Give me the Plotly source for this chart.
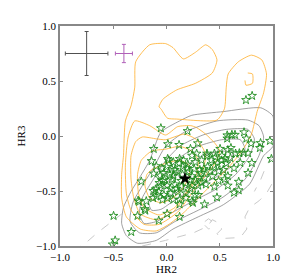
import plotly.graph_objects as go

# ---------------- data ----------------
star_x = [0.746, 0.804, -0.053, 0.197, 0.570, 0.614, 0.643, 0.728, 0.750, 0.794, 0.883, 0.971,
          -0.120, 0.013, 0.118, 0.294, 0.225, 0.283, 0.380, 0.450, 0.503, 0.570, 0.877, 0.605,
          0.576, 0.684, 0.766, 0.649, 0.722, 0.985, 0.239, 0.011, 0.064, 0.380, 0.459, 0.518,
          0.561, 0.693, 0.801, 0.634, 0.766, 0.576, 0.678, 0.547, 0.576, 0.678, 0.634, 0.474,
          0.298, 0.357, 0.239, 0.123, 0.123, 0.006, 0.152, 0.211, 0.327, 0.386, 0.430, 0.327,
          0.239, 0.064, -0.024, 0.006, 0.094, -0.024, 0.182, 0.489, 0.533, -0.140, -0.096, -0.044,
          -0.120, -0.237, -0.038, -0.053, -0.103, -0.125, -0.073, -0.096, -0.038, -0.190, -0.266, -0.204,
          -0.272, -0.073, -0.497, -0.331, -0.482, -0.506, -0.068, -0.125, -0.257, -0.199, 0.248, 0.123,
          0.020, 0.123, 0.269, 0.079, 0.196, 0.313, 0.239, 0.357, 0.050, 0.138, 0.298, 0.035,
          0.108, 0.225, 0.269, 0.006, 0.064, 0.182,
          0.05, 0.10, 0.15, 0.20, 0.26, 0.12, 0.18, 0.08, 0.22, 0.30, 0.35, 0.41, 0.45, 0.42, 0.48,
          0.52, 0.55, 0.60, 0.49, -0.02, -0.06, 0.03, 0.00, 0.16, 0.33, 0.37, 0.45, 0.27, 0.14, 0.04]
star_y = [0.327, 0.365, 0.071, 0.045, 0.006, 0.011, 0.011, 0.034, -0.023, -0.068, -0.064, -0.044,
          -0.117, -0.074, -0.081, -0.066, -0.117, -0.160, -0.160, -0.160, -0.117, -0.023, -0.109, -0.109,
          -0.128, -0.156, -0.156, -0.160, -0.151, -0.208, -0.179, -0.208, -0.237, -0.179, -0.194, -0.222,
          -0.250, -0.245, -0.245, -0.293, -0.336, -0.365, -0.416, -0.393, -0.451, -0.493, -0.515, -0.558,
          -0.536, -0.621, -0.592, -0.621, -0.735, -0.707, -0.279, -0.322, -0.336, -0.279, -0.365, -0.422,
          -0.451, -0.365, -0.336, -0.451, -0.479, -0.536, -0.521, -0.408, -0.308, -0.228, -0.274, -0.293,
          -0.342, -0.413, -0.408, -0.451, -0.485, -0.499, -0.507, -0.550, -0.579, -0.592, -0.587, -0.664,
          -0.726, -0.769, -0.726, -0.872, -0.949, -0.986, -0.427, -0.564, -0.598, -0.678, -0.607, -0.579,
          -0.222, -0.208, -0.237, -0.308, -0.293, -0.308, -0.365, -0.379, -0.393, -0.408, -0.451, -0.479,
          -0.507, -0.479, -0.536, -0.564, -0.579, -0.564,
          -0.30, -0.33, -0.35, -0.26, -0.30, -0.25, -0.43, -0.44, -0.40, -0.38, -0.30, -0.32, -0.27, -0.22, -0.25,
          -0.18, -0.21, -0.20, -0.32, -0.40, -0.36, -0.35, -0.28, -0.22, -0.22, -0.44, -0.46, -0.40, -0.46, -0.52]

target_x = [0.173]
target_y = [-0.387]

# error-bar crosses: (x, y, half-width x, half-width y)
err_big = dict(x=[-0.75], y=[0.75], ex=[0.20], ey=[0.20])
err_small = dict(x=[-0.40], y=[0.75], ex=[0.08], ey=[0.083])

# orange contour paths
orange_1x = [-0.386, -0.333, -0.298, -0.289, -0.158, -0.009, 0.061, 0.158, 0.272, 0.368, 0.430, 0.474,
             0.430, 0.272, 0.096, -0.035, -0.070, -0.053, 0.009, 0.096, 0.474, 0.544, 0.561, 0.579,
             0.675, 0.798, 0.895, 0.939, 0.912, 0.851, 0.798, 0.737, 0.675, 0.561, 0.430, 0.298,
             0.167, 0.035, -0.096, -0.246, -0.377, -0.421, -0.421, -0.404, -0.386]
orange_1y = [0.137, 0.274, 0.444, 0.675, 0.829, 0.840, 0.803, 0.701, 0.761, 0.829, 0.786, 0.692,
             0.573, 0.479, 0.419, 0.333, 0.265, 0.248, 0.162, 0.154, 0.145, 0.248, 0.444, 0.564,
             0.675, 0.735, 0.692, 0.564, 0.393, 0.222, 0.017, -0.094, -0.179, -0.308, -0.436, -0.564,
             -0.692, -0.795, -0.863, -0.846, -0.735, -0.564, -0.350, -0.179, 0.137]
orange_2x = [-0.298, -0.158, -0.009, 0.105, 0.228, 0.281, 0.368, 0.456, 0.500, 0.456, 0.360, 0.237,
             0.105, -0.070, -0.211, -0.333, -0.377, -0.386, -0.360, -0.298]
orange_2y = [0.137, 0.094, 0.009, 0.085, 0.094, 0.077, 0.017, -0.068, -0.137, -0.248, -0.368, -0.521,
             -0.692, -0.803, -0.803, -0.675, -0.521, -0.265, -0.009, 0.137]
orange_3x = [-0.228, -0.096, -0.009, 0.167, 0.272, 0.342, 0.368, 0.342, 0.254, 0.149, 0.061, -0.096,
             -0.246, -0.307, -0.333, -0.333, -0.289, -0.228]
orange_3y = [-0.009, -0.026, -0.034, 0.017, -0.026, -0.111, -0.179, -0.308, -0.436, -0.581, -0.692, -0.761,
             -0.709, -0.564, -0.393, -0.179, -0.051, -0.009]
orange_4x = [-0.140, -0.009, 0.123, 0.237, 0.298, 0.281, 0.211, 0.123, 0.079, -0.070, -0.211, -0.263,
             -0.272, -0.237, -0.140]
orange_4y = [-0.137, -0.120, -0.094, -0.137, -0.222, -0.350, -0.479, -0.590, -0.650, -0.718, -0.650, -0.521,
             -0.350, -0.222, -0.137]
orange_5x = [-0.140, -0.009, 0.123, 0.211, 0.211, 0.149, 0.061, -0.053, -0.158, -0.202, -0.184, -0.140]
orange_5y = [-0.308, -0.248, -0.222, -0.265, -0.368, -0.479, -0.564, -0.607, -0.564, -0.453, -0.350, -0.308]
orange_6x = [0.763, 0.807, 0.807, 0.746, 0.737]
orange_6y = [0.573, 0.564, 0.479, 0.462, 0.505]

# gray solid contour paths
gray_1x = [-0.421, -0.404, -0.333, -0.246, -0.158, -0.053, 0.123, 0.237, 0.535, 0.886, 1.0, 1.0,
           0.912, 0.781, 0.535, 0.298, 0.061, -0.096, -0.272, -0.377, -0.421]
gray_1y = [-0.795, -0.650, -0.504, -0.368, -0.222, 0.034, 0.137, 0.188, 0.222, 0.256, 0.180, -0.094,
           -0.179, -0.436, -0.624, -0.735, -0.846, -0.949, -0.975, -0.906, -0.795]
gray_2x = [-0.342, -0.316, -0.228, -0.123, -0.009, 0.167, 0.474, 0.763, 0.868, 0.912, 0.868, 0.737,
           0.518, 0.298, 0.079, -0.096, -0.254, -0.342]
gray_2y = [-0.778, -0.607, -0.453, -0.291, -0.094, 0.034, 0.137, 0.145, 0.094, -0.009, -0.179, -0.393,
           -0.564, -0.675, -0.778, -0.880, -0.880, -0.778]
gray_3x = [-0.254, -0.228, -0.140, -0.026, 0.123, 0.342, 0.561, 0.763, 0.825, 0.781, 0.649, 0.474,
           0.254, 0.061, -0.096, -0.211, -0.254]
gray_3y = [-0.709, -0.564, -0.419, -0.248, -0.094, 0.009, 0.060, 0.060, -0.026, -0.179, -0.350, -0.479,
           -0.590, -0.692, -0.778, -0.795, -0.709]
gray_4x = [-0.167, -0.114, -0.009, 0.123, 0.298, 0.518, 0.693, 0.737, 0.649, 0.474, 0.254, 0.079,
           -0.053, -0.140, -0.167]
gray_4y = [-0.607, -0.479, -0.333, -0.197, -0.094, -0.034, -0.034, -0.120, -0.248, -0.368, -0.479, -0.581,
           -0.667, -0.675, -0.607]
gray_5x = [-0.053, 0.035, 0.167, 0.342, 0.518, 0.623, 0.588, 0.430, 0.237, 0.079, -0.026, -0.053]
gray_5y = [-0.504, -0.393, -0.282, -0.179, -0.137, -0.154, -0.248, -0.333, -0.436, -0.521, -0.564, -0.504]

# light dashed contour paths
dash_1x = [-0.886, -0.781, -0.649, -0.509, -0.421]
dash_1y = [-1.036, -0.991, -0.880, -0.778, -0.709]
dash_2x = [-0.228, -0.009, 0.254, 0.386, 0.430, 0.500, 0.518, 0.474, 0.518, 0.693, 0.754, 0.737, 0.781,
           0.868, 0.939, 1.0]
dash_2y = [-1.000, -0.949, -0.880, -0.821, -0.761, -0.795, -0.846, -0.889, -0.932, -0.923, -0.846, -0.735,
           -0.650, -0.590, -0.521, -0.419]
dash_3x = [1.0, 0.939, 0.886, 0.825]
dash_3y = [-0.179, -0.265, -0.393, -0.504]
dash_4x = [0.360, 0.395, 0.430, 0.430, 0.395, 0.360]
dash_4y = [-0.778, -0.752, -0.778, -0.830, -0.846, -0.812]

# ---------------- figure ----------------
fig = go.Figure()

ORANGE = "rgba(255,170,30,0.75)"
GRAY = "rgba(120,120,120,0.7)"
LIGHT = "rgba(195,195,195,0.9)"
SERIF = "Liberation Serif, Times New Roman, DejaVu Serif, serif"

for gx, gy in [(dash_1x, dash_1y), (dash_2x, dash_2y), (dash_3x, dash_3y), (dash_4x, dash_4y)]:
    fig.add_trace(go.Scatter(x=gx, y=gy, mode="lines", line=dict(color=LIGHT, width=1, dash="dash"),
                             hoverinfo="skip", showlegend=False))
for gx, gy in [(gray_1x, gray_1y), (gray_2x, gray_2y), (gray_3x, gray_3y), (gray_4x, gray_4y),
               (gray_5x, gray_5y)]:
    fig.add_trace(go.Scatter(x=gx, y=gy, mode="lines", line=dict(color=GRAY, width=1, shape="spline",
                             smoothing=0.6), hoverinfo="skip", showlegend=False))
for ox, oy in [(orange_1x, orange_1y), (orange_2x, orange_2y), (orange_3x, orange_3y),
               (orange_4x, orange_4y), (orange_5x, orange_5y), (orange_6x, orange_6y)]:
    fig.add_trace(go.Scatter(x=ox, y=oy, mode="lines", line=dict(color=ORANGE, width=1, shape="spline",
                             smoothing=0.6), hoverinfo="skip", showlegend=False))

fig.add_trace(go.Scatter(x=star_x, y=star_y, mode="markers",
                         marker=dict(symbol="star-open", size=6.5, color="#1f8c1f", line=dict(width=0.9)),
                         showlegend=False))
fig.add_trace(go.Scatter(x=target_x, y=target_y, mode="markers",
                         marker=dict(symbol="star", size=10, color="black"), showlegend=False))

fig.add_trace(go.Scatter(x=err_big["x"], y=err_big["y"], mode="markers", marker=dict(size=1, opacity=0),
                         error_x=dict(type="data", array=err_big["ex"], color="#505050", thickness=1, width=2),
                         error_y=dict(type="data", array=err_big["ey"], color="#505050", thickness=1, width=2),
                         showlegend=False))
fig.add_trace(go.Scatter(x=err_small["x"], y=err_small["y"], mode="markers", marker=dict(size=1, opacity=0),
                         error_x=dict(type="data", array=err_small["ex"], color="#b060b8", thickness=1, width=2),
                         error_y=dict(type="data", array=err_small["ey"], color="#b060b8", thickness=1, width=2),
                         showlegend=False))

tickvals = [-1.0, -0.5, 0.0, 0.5, 1.0]
ticktext = ["\u22121.0", "\u22120.5", "0.0", "0.5", "1.0"]
axis_common = dict(range=[-1, 1], tickvals=tickvals, ticktext=ticktext, ticks="inside", ticklen=3,
                   tickcolor="#888", showgrid=False, zeroline=False, showline=True, linecolor="#888",
                   linewidth=1.5, mirror="ticks",
                   tickfont=dict(family=SERIF, size=11, color="black"))

fig.update_layout(
    width=295, height=277,
    margin=dict(l=37, r=30, t=12, b=31),
    plot_bgcolor="white", paper_bgcolor="white",
    font=dict(family=SERIF, color="black"),
    xaxis=dict(**axis_common, title=dict(text="HR2", font=dict(family=SERIF, size=11, color="black"),
                                         standoff=2)),
    yaxis=dict(**axis_common, title=dict(text="HR3", font=dict(family=SERIF, size=11, color="black"),
                                         standoff=8)),
    showlegend=False,
)

fig.write_html("out.html")
